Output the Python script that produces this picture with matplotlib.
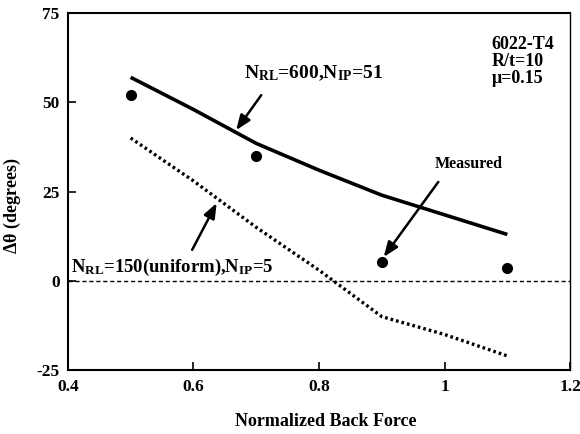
import matplotlib
matplotlib.use("Agg")
import matplotlib.pyplot as plt

# values
back_force = [0.5, 0.6, 0.7, 0.8, 0.9, 1.0, 1.1]
fine_mesh = [57, 48, 38.5, 31, 24, 18.5, 13]          # N_RL=600, N_IP=51
coarse_mesh = [40, 28, 15, 3, -10, -15, -21]          # N_RL=150, N_IP=5
meas_force = [0.5, 0.7, 0.9, 1.1]
measured = [52, 35, 5.3, 3.6]

plt.rcParams['font.family'] = ['Liberation Serif', 'DejaVu Serif']
plt.rcParams['font.weight'] = 'bold'
plt.rcParams['axes.unicode_minus'] = False
plt.rcParams['mathtext.fontset'] = 'custom'
plt.rcParams['mathtext.rm'] = 'Liberation Serif:bold'
plt.rcParams['mathtext.it'] = 'Liberation Serif:bold'
plt.rcParams['mathtext.bf'] = 'Liberation Serif:bold'

fig = plt.figure(figsize=(5.8, 4.34), dpi=100)
ax = fig.add_axes([0.117, 0.147, 0.866, 0.823])

ax.axhline(0, color='black', lw=1, ls=(0, (3, 2)))
ax.plot(back_force, fine_mesh, color='black', lw=2.6, solid_capstyle='butt')
ax.plot(back_force, coarse_mesh, color='black', lw=2.4, ls=(0, (0.8, 0.9)))
ax.plot(meas_force, measured, 'o', color='black', ms=7)

ax.set_xlim(0.4, 1.2)
ax.set_ylim(-25, 75)
ax.set_xticks([0.4, 0.6, 0.8, 1.0, 1.2])
ax.set_xticklabels(['0.4', '0.6', '0.8', '1', '1.2'])
ax.set_yticks([-25, 0, 25, 50, 75])
ax.tick_params(direction='in', length=6, width=1.2, labelsize=12.5, pad=6)
for lab in ax.get_xticklabels() + ax.get_yticklabels():
    lab.set_fontweight('bold')
for s in ax.spines.values():
    s.set_linewidth(1.5)
ax.spines['right'].set_linewidth(1.0)

ax.set_xlabel('Normalized Back Force', fontsize=13, fontweight='bold')
ax.xaxis.set_label_coords(0.514, -0.12)
ax.set_ylabel(r'$\Delta\theta$ (degrees)', fontsize=13, fontweight='bold')
ax.yaxis.set_label_coords(-0.09, 0.46)

arrow = dict(arrowstyle='-|>,head_length=0.9,head_width=0.35', color='black', lw=1.8,
             shrinkA=0, shrinkB=0)
ax.text(0.681, 61, r'N$_{\mathrm{RL}}$=600,N$_{\mathrm{IP}}$=51', fontsize=14,
        fontweight='bold', ha='left', va='top')
ax.annotate('', xy=(0.668, 42.2), xytext=(0.708, 52), arrowprops=arrow)

ax.text(1.038, 30.5, 'Measured', fontsize=11.5, fontweight='bold', ha='center', va='bottom')
ax.annotate('', xy=(0.903, 6.7), xytext=(0.99, 27.7), arrowprops=arrow)

ax.text(0.405, 6.8, r'N$_{\mathrm{RL}}$=150(uniform),N$_{\mathrm{IP}}$=5', fontsize=13.5,
        fontweight='bold', ha='left', va='top')
ax.annotate('', xy=(0.637, 21.8), xytext=(0.598, 8.7), arrowprops=arrow)

ax.text(1.075, 68.5, '6022-T4\nR/t=10\n\u03bc=0.15', fontsize=13, fontweight='bold',
        ha='left', va='top', linespacing=1.0)

fig.savefig('out.png', dpi=100)
